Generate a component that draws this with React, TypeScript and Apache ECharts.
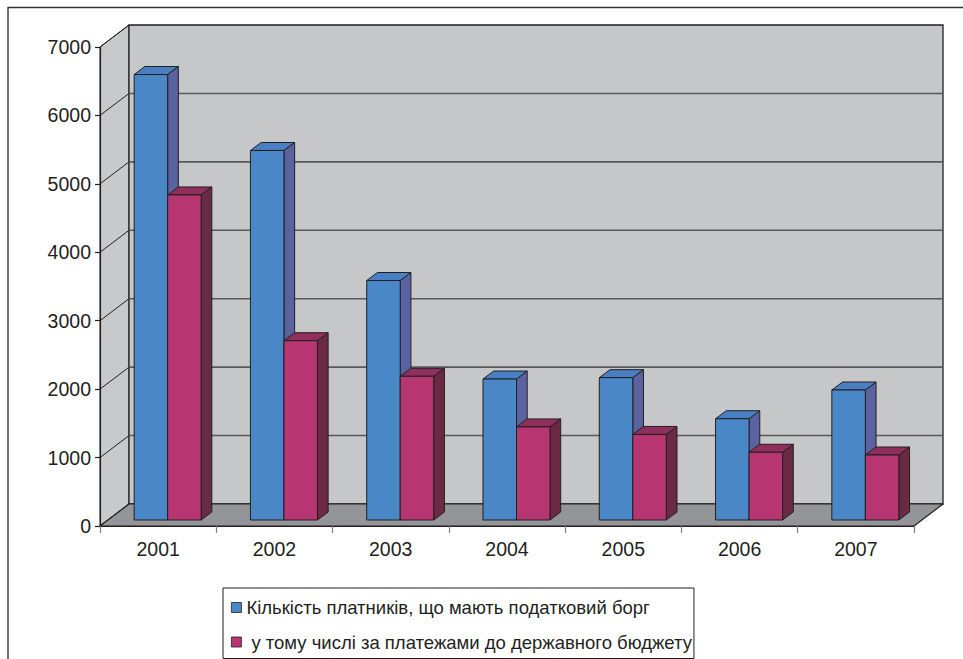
import React, { useEffect, useRef } from "react";
import * as echarts from "echarts";

const years = ["2001", "2002", "2003", "2004", "2005", "2006", "2007"];
const debtors = [6510, 5400, 3500, 2060, 2080, 1480, 1900];
const budget = [4750, 2620, 2100, 1360, 1250, 990, 950];
const yTicks = [0, 1000, 2000, 3000, 4000, 5000, 6000, 7000];

const nameA = "Кількість платників, що мають податковий борг";
const nameB = "у тому числі за платежами до державного бюджету";

const WALL_DX = 29;
const WALL_DY = -22;
const BAR_FRONT_DY = -6;
const BAR_DX = 10.7;
const BAR_DY = -8;
const BAR_W = 33.5;
const STROKE = "#231f20";

const blue = { front: "#4a87c7", side: "#5a62a0", top: "#4a7fc3" };
const pink = { front: "#b73671", side: "#6a2a46", top: "#8f2f5c" };

function barRender(colors: any, seriesIdx: number) {
  return (params: any, api: any) => {
    const i = api.value(0);
    const v = api.value(1);
    const c0 = api.coord([i, 0]);
    const c1 = api.coord([i, v]);
    const x = c0[0] - 24 + seriesIdx * BAR_W;
    const yb = c0[1] + BAR_FRONT_DY;
    const yt = c1[1] + BAR_FRONT_DY;
    const w = BAR_W;
    const st = { stroke: STROKE, lineWidth: 1, lineJoin: "round" };
    return {
      type: "group",
      children: [
        {
          type: "polygon",
          shape: { points: [[x + w, yt], [x + w + BAR_DX, yt + BAR_DY], [x + w + BAR_DX, yb + BAR_DY], [x + w, yb]] },
          style: { fill: colors.side, ...st },
        },
        {
          type: "polygon",
          shape: { points: [[x, yt], [x + w, yt], [x + w + BAR_DX, yt + BAR_DY], [x + BAR_DX, yt + BAR_DY]] },
          style: { fill: colors.top, ...st },
        },
        {
          type: "rect",
          shape: { x, y: yt, width: w, height: yb - yt },
          style: { fill: colors.front, ...st },
        },
      ],
    };
  };
}

export default function App() {
  const ref = useRef<HTMLDivElement>(null);
  useEffect(() => {
    if (!ref.current) return;
    const chart = echarts.init(ref.current, null, { renderer: "svg" });
    const font = "'Liberation Sans', Arial, sans-serif";
    const option: any = {
      animation: false,
      backgroundColor: "#ffffff",
      textStyle: { fontFamily: font },
      grid: { left: 100, top: 47, right: 49, bottom: 133 },
      xAxis: {
        type: "category",
        data: years,
        boundaryGap: true,
        z: 10,
        axisLine: { show: true, lineStyle: { color: STROKE, width: 1.2 } },
        axisTick: { show: true, length: 7, lineStyle: { color: "#7d7f82", width: 1.2 } },
        axisLabel: { fontSize: 19.5, color: STROKE, margin: 13, fontFamily: font },
        splitLine: { show: false },
      },
      yAxis: {
        type: "value",
        min: 0,
        max: 7000,
        interval: 1000,
        z: 10,
        axisLine: { show: true, lineStyle: { color: STROKE, width: 1.2 } },
        axisTick: { show: true, length: 5, lineStyle: { color: STROKE, width: 1.2 } },
        axisLabel: {
          fontSize: 19.5,
          color: STROKE,
          margin: 9,
          fontFamily: font,
          formatter: (v: number) => String(v),
        },
        splitLine: { show: false },
      },
      legend: {
        show: true,
        orient: "vertical",
        left: 223,
        top: 588,
        data: [nameA, nameB],
        icon: "rect",
        itemWidth: 10,
        itemHeight: 10,
        itemGap: 15.5,
        padding: [10, 2, 7, 8],
        borderColor: STROKE,
        borderWidth: 1,
        backgroundColor: "#ffffff",
        itemStyle: { borderColor: STROKE, borderWidth: 0.8 },
        formatter: (n: string) => (n === nameB ? "{p|}" + n : n),
        textStyle: {
          fontSize: 18.5,
          color: STROKE,
          fontFamily: font,
          rich: { p: { width: 5 } },
        },
        selectedMode: false,
      },
      graphic: [
        {
          type: "rect",
          silent: true,
          z: 100,
          shape: { x: 8, y: 7.5, width: 1200, height: 1200 },
          style: { fill: "none", stroke: "#333333", lineWidth: 1.4 },
        },
      ],
      series: [
        {
          type: "custom",
          name: "wall",
          silent: true,
          data: [[0, 0]],
          renderItem: (params: any, api: any) => {
            const bw = api.size([1, 0])[0];
            const l = api.coord([0, 0])[0] - bw / 2;
            const r = api.coord([years.length - 1, 0])[0] + bw / 2;
            const b = api.coord([0, 0])[1];
            const t = api.coord([0, 7000])[1];
            return {
              type: "group",
              children: [
                {
                  type: "polygon",
                  shape: { points: [[l, b], [l, t], [l + WALL_DX, t + WALL_DY], [l + WALL_DX, b + WALL_DY]] },
                  style: { fill: "#c8c9cb", stroke: STROKE, lineWidth: 1 },
                },
                {
                  type: "rect",
                  shape: { x: l + WALL_DX, y: t + WALL_DY, width: r - l, height: b - t },
                  style: { fill: "#c6c7c9", stroke: STROKE, lineWidth: 1.3 },
                },
              ],
            };
          },
        },
        {
          type: "custom",
          name: "gridlines",
          silent: true,
          data: yTicks.map((v) => [0, v]),
          renderItem: (params: any, api: any) => {
            const v = api.value(1);
            const bw = api.size([1, 0])[0];
            const l = api.coord([0, 0])[0] - bw / 2;
            const r = api.coord([years.length - 1, 0])[0] + bw / 2;
            const y = api.coord([0, v])[1];
            const children: any[] = [
              {
                type: "line",
                shape: { x1: l, y1: y, x2: l + WALL_DX, y2: y + WALL_DY },
                style: { stroke: STROKE, lineWidth: 1 },
              },
            ];
            if (v > 0 && v < 7000) {
              children.push({
                type: "line",
                shape: { x1: l + WALL_DX, y1: y + WALL_DY, x2: r + WALL_DX, y2: y + WALL_DY },
                style: { stroke: "#58595b", lineWidth: 1.6 },
              });
            }
            return { type: "group", children };
          },
        },
        {
          type: "custom",
          name: "floor",
          silent: true,
          data: [[0, 0]],
          renderItem: (params: any, api: any) => {
            const bw = api.size([1, 0])[0];
            const l = api.coord([0, 0])[0] - bw / 2;
            const r = api.coord([years.length - 1, 0])[0] + bw / 2;
            const b = api.coord([0, 0])[1];
            return {
              type: "polygon",
              shape: { points: [[l, b], [r, b], [r + WALL_DX, b + WALL_DY], [l + WALL_DX, b + WALL_DY]] },
              style: { fill: "#949598", stroke: STROKE, lineWidth: 1.2, lineJoin: "round" },
            };
          },
        },
        {
          type: "custom",
          name: nameA,
          silent: true,
          itemStyle: { color: blue.front },
          data: debtors.map((v, i) => [i, v]),
          encode: { x: 0, y: 1 },
          renderItem: barRender(blue, 0),
        },
        {
          type: "custom",
          name: nameB,
          silent: true,
          itemStyle: { color: pink.front },
          data: budget.map((v, i) => [i, v]),
          encode: { x: 0, y: 1 },
          renderItem: barRender(pink, 1),
        },
      ],
    };
    chart.setOption(option);
    return () => chart.dispose();
  }, []);
  return (
    <div
      ref={ref}
      style={{ position: "fixed", left: 0, top: 0, width: 963, height: 659, background: "#fff" }}
    />
  );
}
